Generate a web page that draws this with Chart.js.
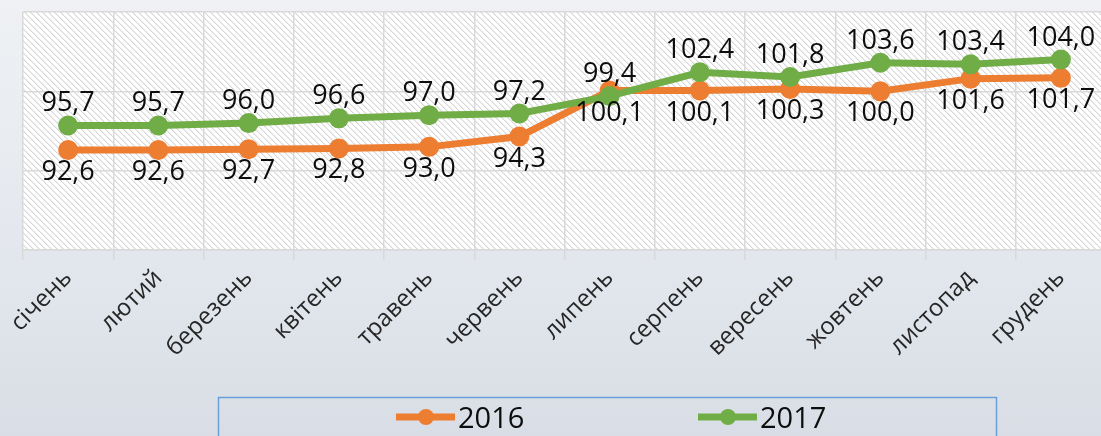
<!DOCTYPE html>
<html>
<head>
<meta charset="utf-8">
<script src="https://cdn.jsdelivr.net/npm/chart.js@4"></script>
<style>
  html, body { margin:0; padding:0; overflow:hidden; width:1101px; height:436px;
    background: linear-gradient(to bottom, #eff1f4 0%, #e4e8ee 55%, #d9dee6 100%); }
  #wrap { position:absolute; left:0; top:0; width:1116px; height:436px; }
</style>
</head>
<body>
<div id="wrap"><canvas id="c" width="1116" height="436" style="width:1116px;height:436px"></canvas></div>
<script>
const categories = ['січень','лютий','березень','квітень','травень','червень','липень','серпень','вересень','жовтень','листопад','грудень'];
const values2016 = [92.6, 92.6, 92.7, 92.8, 93.0, 94.3, 100.1, 100.1, 100.3, 100.0, 101.6, 101.7];
const values2017 = [95.7, 95.7, 96.0, 96.6, 97.0, 97.2, 99.4, 102.4, 101.8, 103.6, 103.4, 104.0];
const seriesNames = ['2016', '2017'];
const seriesColors = ['#ed7d31', '#70ad47'];
const yMin = 80, yMax = 110, yStep = 10;

function fmt(v){ return v.toFixed(1).replace('.', ','); }

// hatch pattern for plot area
const P = 6;
const pc = document.createElement('canvas');
pc.width = P; pc.height = P;
const pctx = pc.getContext('2d');
pctx.fillStyle = '#ffffff'; pctx.fillRect(0,0,P,P);
for (let i = 0; i < P; i++) {
  pctx.fillStyle = '#d6d6d6'; pctx.fillRect(i, i, 1, 1);
  pctx.fillStyle = '#eeeeee'; pctx.fillRect((i+1)%P, i, 1, 1);
}

const plotBg = {
  id: 'plotBg',
  beforeDraw(chart) {
    const {ctx, chartArea:a} = chart;
    ctx.save();
    ctx.fillStyle = ctx.createPattern(pc, 'repeat');
    ctx.fillRect(a.left, a.top, a.right - a.left, a.bottom - a.top);
    ctx.restore();
  }
};

const dataLabels = {
  id: 'dataLabels',
  afterDatasetsDraw(chart) {
    const ctx = chart.ctx;
    ctx.save();
    ctx.font = '27px "Open Sans"';
    ctx.fillStyle = '#0d0d0d';
    ctx.textAlign = 'center';
    ctx.textBaseline = 'alphabetic';
    chart.data.datasets.forEach((ds, di) => {
      const meta = chart.getDatasetMeta(di);
      meta.data.forEach((pt, i) => {
        const below = ds.labelPos === 'below';
        const y = below ? pt.y + 30 : pt.y - 14;
        ctx.fillText(fmt(ds.data[i]), pt.x, y);
      });
    });
    ctx.restore();
  }
};

const boxLegend = {
  id: 'boxLegend',
  afterDraw(chart) {
    const ctx = chart.ctx;
    ctx.save();
    ctx.strokeStyle = '#6a9fd9';
    ctx.lineWidth = 1.5;
    ctx.strokeRect(218.5, 397.5, 778, 60);
    const starts = [396, 698];
    chart.data.datasets.forEach((ds, di) => {
      const x0 = starts[di], yc = 417;
      ctx.strokeStyle = ds.borderColor;
      ctx.lineWidth = 7;
      ctx.lineCap = 'butt';
      ctx.beginPath(); ctx.moveTo(x0, yc); ctx.lineTo(x0 + 59, yc); ctx.stroke();
      ctx.fillStyle = ds.borderColor;
      ctx.beginPath(); ctx.arc(x0 + 30, yc, 8, 0, Math.PI*2); ctx.fill();
      ctx.fillStyle = '#0d0d0d';
      ctx.font = '29px "Liberation Sans Narrow", "Open Sans"';
      ctx.textAlign = 'left';
      ctx.textBaseline = 'alphabetic';
      ctx.fillText(ds.label, x0 + 62, 428);
    });
    ctx.restore();
  }
};

new Chart(document.getElementById('c'), {
  type: 'line',
  data: {
    labels: categories,
    datasets: [
      { label: seriesNames[0], data: values2016, borderColor: seriesColors[0], backgroundColor: seriesColors[0],
        borderWidth: 7, pointRadius: 10, pointHoverRadius: 10, pointBorderWidth: 0, tension: 0, order: 1, labelPos: 'below' },
      { label: seriesNames[1], data: values2017, borderColor: seriesColors[1], backgroundColor: seriesColors[1],
        borderWidth: 7, pointRadius: 10, pointHoverRadius: 10, pointBorderWidth: 0, tension: 0, order: 0, labelPos: 'above' }
    ]
  },
  options: {
    responsive: false,
    animation: false,
    events: [],
    layout: { padding: { left: 23, right: 1, top: 12, bottom: 0 } },
    plugins: { legend: { display: false }, tooltip: { enabled: false } },
    scales: {
      x: {
        offset: true,
        grid: { offset: true, color: '#d9d9d9', lineWidth: 1.5, tickLength: 10, drawTicks: true },
        border: { display: true, color: '#d9d9d9', width: 1.5 },
        ticks: { color: '#262626', font: { family: 'Open Sans', size: 24 }, minRotation: 45, maxRotation: 45, padding: 4 },
        afterFit(s) { s.height = 186; }
      },
      y: {
        min: yMin, max: yMax,
        ticks: { display: false, stepSize: yStep },
        grid: { color: '#d9d9d9', lineWidth: 1.5, drawTicks: false },
        border: { display: false },
        afterFit(s) { s.width = 0; }
      }
    }
  },
  plugins: [plotBg, dataLabels, boxLegend]
});
</script>
</body>
</html>
